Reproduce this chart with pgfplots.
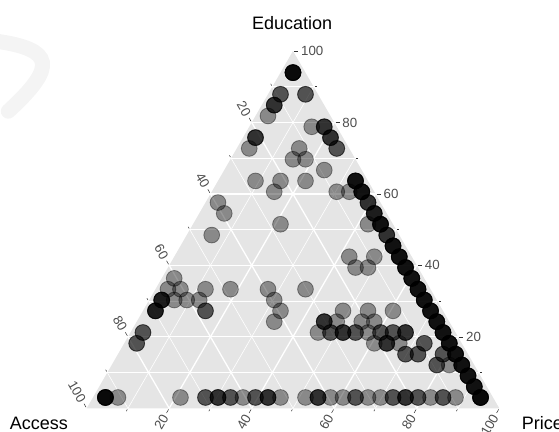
\documentclass[border=0pt]{standalone}
\usepackage{pgfplots}
\pgfplotsset{compat=1.18}
\usepackage{pgfplotstable}
\usepackage{fontspec}
\setmainfont{Liberation Sans}
\definecolor{panel}{HTML}{E5E5E5}
\definecolor{ticktext}{HTML}{4D4D4D}
\definecolor{tickc}{HTML}{333333}
\definecolor{wm}{HTML}{F4F4F4}

% counts (A = Access, E = Education, P = Price), n = number of identical answers
\pgfplotstableread{
A E P n
1 31 1 6
3 29 1 2
1 29 3 2
4 28 1 3
5 27 1 1
2 26 5 1
1 26 6 3
1 25 7 3
1 24 8 2
7 25 1 3
8 24 1 1
4 24 5 1
5 23 5 1
4 23 6 1
3 22 8 1
7 21 5 1
5 21 7 1
3 20 10 1
2 20 11 1
9 21 3 1
8 20 5 1
9 17 7 1
13 19 1 1
13 18 2 1
15 16 2 1
2 17 14 1
1 21 11 5
1 20 12 5
1 19 13 3
1 18 14 4
1 17 15 5
1 16 16 3
1 15 17 5
1 14 18 5
1 13 19 5
1 12 20 5
1 11 21 5
1 10 22 5
1 9 23 5
1 8 24 5
1 7 25 5
1 6 26 5
1 5 27 5
1 4 28 5
1 3 29 5
1 2 30 5
1 1 31 6
5 14 14 1
3 14 16 1
5 13 15 1
4 13 16 1
10 11 12 1
8 9 16 1
6 9 18 1
4 9 20 1
10 8 15 3
9 8 16 1
7 8 18 1
6 8 19 1
11 7 15 1
10 7 16 2
9 7 17 3
8 7 18 2
7 7 19 1
6 7 20 2
5 7 21 2
4 7 22 3
7 6 20 1
6 6 21 3
5 6 22 1
3 6 24 2
5 5 23 2
4 5 24 2
2 5 26 2
3 4 26 2
2 4 27 1
20 12 1 1
21 11 1 1
20 11 2 1
22 10 1 4
21 10 2 1
20 10 3 1
19 10 4 1
18 11 4 1
19 9 5 2
23 9 1 4
25 7 1 2
26 6 1 2
16 11 6 1
13 11 9 1
13 10 10 1
13 9 11 1
14 8 11 1
31 1 1 6
30 1 2 1
25 1 7 1
23 1 9 2
22 1 10 3
21 1 11 2
20 1 12 1
19 1 13 2
18 1 14 3
17 1 15 1
15 1 17 1
14 1 18 3
13 1 19 1
12 1 20 1
11 1 21 2
10 1 22 1
9 1 23 1
8 1 24 2
7 1 25 3
6 1 26 2
5 1 27 1
4 1 28 2
3 1 29 1
}\pts

\tikzset{ticklab/.style={inner sep=0pt, text=ticktext, font=\fontsize{13.3}{14}\selectfont},
  tk/.style={draw=tickc, line width=0.5pt}}
% Education ticks (right edge, horizontal)
\newcommand\etick[3]{\draw[tk] (axis cs:#1,#2) ++(0:1.3pt) -- ++(0:#3);}
\newcommand\elab[3]{\path (axis cs:#1,#2) ++(0:8pt) node[anchor=west,ticklab]{#3};}
% Access ticks (left edge, up-left)
\newcommand\atick[3]{\draw[tk] (axis cs:#1,#2) ++(120:1.3pt) -- ++(120:#3);}
\newcommand\alab[3]{\path (axis cs:#1,#2) ++(120:8pt) node[anchor=east,rotate=-60,ticklab]{#3};}
% Price ticks (bottom edge, down-left)
\newcommand\ptick[2]{\draw[tk] (axis cs:#1,0) ++(240:1.3pt) -- ++(240:#2);}
\newcommand\plab[2]{\path (axis cs:#1,0) ++(240:8pt) node[anchor=east,rotate=60,ticklab]{#2};}

\begin{document}
\begin{tikzpicture}
\begin{axis}[x=4.126pt, y=4.126pt, xmin=-21.01, xmax=114.47, ymin=-5.50, ymax=98.96,
  hide axis, clip=false]
% faint watermark stroke
\draw[wm, line width=15pt, line cap=round] (axis cs:-22,89) .. controls (axis cs:-8,87) and (axis cs:-7,83) .. (axis cs:-19,72);
% panel
\fill[panel] (axis cs:0,0) -- (axis cs:100,0) -- (axis cs:50,86.603) -- cycle;
% minor grid
\begin{scope}[white, line width=0.6pt]
\draw (axis cs:5,8.660)--(axis cs:95,8.660);
\draw (axis cs:15,25.981)--(axis cs:85,25.981);
\draw (axis cs:25,43.301)--(axis cs:75,43.301);
\draw (axis cs:35,60.622)--(axis cs:65,60.622);
\draw (axis cs:45,77.942)--(axis cs:55,77.942);
\draw (axis cs:90,0)--(axis cs:45,77.942);
\draw (axis cs:70,0)--(axis cs:35,60.622);
\draw (axis cs:50,0)--(axis cs:25,43.301);
\draw (axis cs:30,0)--(axis cs:15,25.981);
\draw (axis cs:10,0)--(axis cs:5,8.660);
\draw (axis cs:10,0)--(axis cs:55,77.942);
\draw (axis cs:30,0)--(axis cs:65,60.622);
\draw (axis cs:50,0)--(axis cs:75,43.301);
\draw (axis cs:70,0)--(axis cs:85,25.981);
\draw (axis cs:90,0)--(axis cs:95,8.660);
\end{scope}
% major grid
\begin{scope}[white, line width=1.3pt]
\draw (axis cs:10,17.321)--(axis cs:90,17.321);
\draw (axis cs:20,34.641)--(axis cs:80,34.641);
\draw (axis cs:30,51.962)--(axis cs:70,51.962);
\draw (axis cs:40,69.282)--(axis cs:60,69.282);
\draw (axis cs:80,0)--(axis cs:40,69.282);
\draw (axis cs:60,0)--(axis cs:30,51.962);
\draw (axis cs:40,0)--(axis cs:20,34.641);
\draw (axis cs:20,0)--(axis cs:10,17.321);
\draw (axis cs:20,0)--(axis cs:60,69.282);
\draw (axis cs:40,0)--(axis cs:70,51.962);
\draw (axis cs:60,0)--(axis cs:80,34.641);
\draw (axis cs:80,0)--(axis cs:90,17.321);
\end{scope}
% points (drawn once per identical answer)
\pgfplotsinvokeforeach{1,2,3,4,5,6}{
\addplot[only marks, mark=*, mark size=7.9pt,
  mark options={fill=black, draw=black, line width=0.8pt, opacity=0.4}]
  table[x expr={100*(\thisrow{P}+0.5*\thisrow{E})/(\thisrow{A}+\thisrow{E}+\thisrow{P})},
        y expr={86.60254*\thisrow{E}/(\thisrow{A}+\thisrow{E}+\thisrow{P})},
        restrict expr to domain={\thisrow{n}}{#1:100}] {\pts};
}
% Education ticks
\etick{95}{8.660}{2pt}\etick{90}{17.321}{4pt}\etick{85}{25.981}{2pt}\etick{80}{34.641}{4pt}
\etick{75}{43.301}{2pt}\etick{70}{51.962}{4pt}\etick{65}{60.622}{2pt}\etick{60}{69.282}{4pt}
\etick{55}{77.942}{2pt}\etick{50}{86.603}{4pt}
\elab{90}{17.321}{20}\elab{80}{34.641}{40}\elab{70}{51.962}{60}\elab{60}{69.282}{80}\elab{50}{86.603}{100}
% Access ticks
\atick{45}{77.942}{2pt}\atick{40}{69.282}{4pt}\atick{35}{60.622}{2pt}\atick{30}{51.962}{4pt}
\atick{25}{43.301}{2pt}\atick{20}{34.641}{4pt}\atick{15}{25.981}{2pt}\atick{10}{17.321}{4pt}
\atick{5}{8.660}{2pt}\atick{0}{0}{4pt}
\alab{40}{69.282}{20}\alab{30}{51.962}{40}\alab{20}{34.641}{60}\alab{10}{17.321}{80}\alab{0}{0}{100}
% Price ticks
\ptick{10}{2pt}\ptick{20}{4pt}\ptick{30}{2pt}\ptick{40}{4pt}\ptick{50}{2pt}
\ptick{60}{4pt}\ptick{70}{2pt}\ptick{80}{4pt}\ptick{90}{2pt}\ptick{100}{4pt}
\plab{20}{20}\plab{40}{40}\plab{60}{60}\plab{80}{80}\plab{100}{100}
% axis titles
\node[anchor=base, font=\fontsize{18}{20}\selectfont] at (axis cs:49.8,91.7) {Education};
\node[anchor=base, font=\fontsize{18}{20}\selectfont] at (axis cs:-11.56,-5.09) {Access};
\node[anchor=base west, font=\fontsize{18}{20}\selectfont] at (axis cs:104.6,-5.09) {Price};
\end{axis}
\pgfresetboundingbox
\path[use as bounding box] (current axis.south west) rectangle (current axis.north east);
\end{tikzpicture}
\end{document}
